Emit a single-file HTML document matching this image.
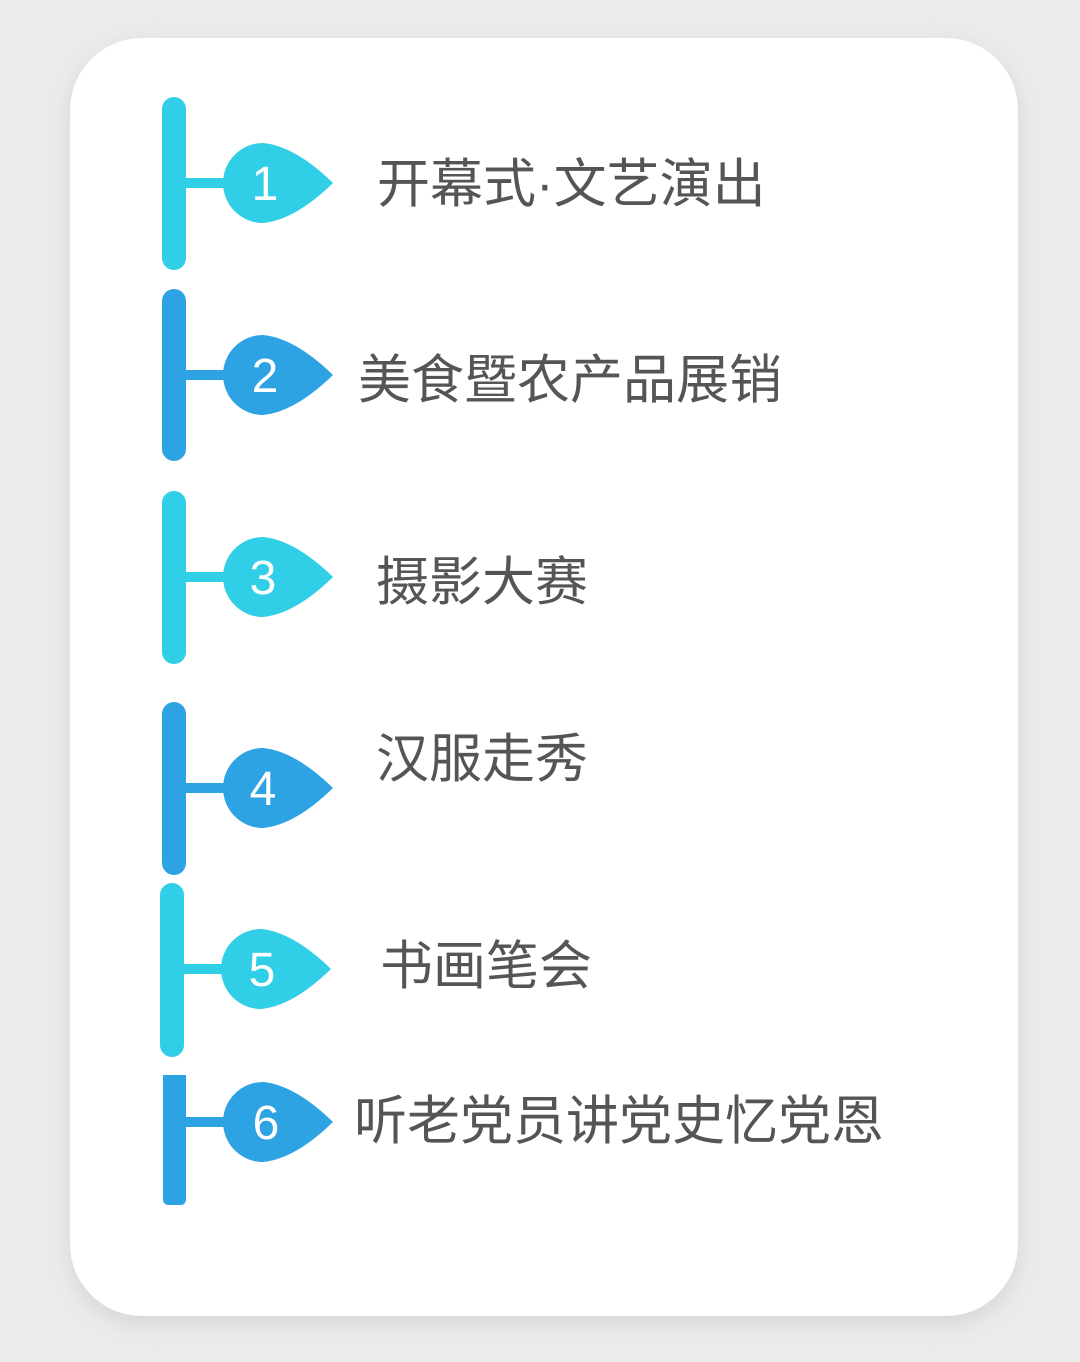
<!DOCTYPE html>
<html><head><meta charset="utf-8"><style>
html,body{margin:0;padding:0;background:#ebebeb;}
svg{display:block}
</style></head><body>
<svg width="1080" height="1362" viewBox="0 0 1080 1362" xmlns="http://www.w3.org/2000/svg">
<defs>
<filter id="sh" x="-10%" y="-10%" width="120%" height="120%"><feGaussianBlur stdDeviation="10"/></filter>
</defs>
<rect width="1080" height="1362" fill="#ebebeb"/>
<rect x="70" y="44" width="948" height="1280" rx="72" fill="#d6d6d6" filter="url(#sh)"/>
<rect x="70" y="38" width="948" height="1278" rx="72" fill="#ffffff"/>
<g font-family="Liberation Sans, DejaVu Sans, sans-serif" font-size="48" fill="#fff" text-anchor="middle">
<g fill="#30cfe7"><rect x="162" y="97" width="24" height="173" rx="12"/><rect x="184" y="178" width="50" height="10"/>
<path d="M263,143 A40,40 0 1 0 263,223 Q295,220 333,183 Q295,146 263,143Z"/></g>
<text x="265" y="200">1</text>
<g fill="#2ea3e4"><rect x="162" y="289" width="24" height="172" rx="12"/><rect x="184" y="370" width="50" height="10"/>
<path d="M263,335 A40,40 0 1 0 263,415 Q295,412 333,375 Q295,338 263,335Z"/></g>
<text x="265" y="392">2</text>
<g fill="#30cfe7"><rect x="162" y="491" width="24" height="173" rx="12"/><rect x="184" y="572" width="50" height="10"/>
<path d="M263,537 A40,40 0 1 0 263,617 Q295,614 333,577 Q295,540 263,537Z"/></g>
<text x="263" y="594">3</text>
<g fill="#2ea3e4"><rect x="162" y="702" width="24" height="173" rx="12"/><rect x="184" y="783" width="50" height="10"/>
<path d="M263,748 A40,40 0 1 0 263,828 Q295,825 333,788 Q295,751 263,748Z"/></g>
<text x="263" y="805">4</text>
<g fill="#30cfe7"><rect x="160" y="883" width="24" height="174" rx="12"/><rect x="182" y="964" width="50" height="10"/>
<path d="M261,929 A40,40 0 1 0 261,1009 Q293,1006 331,969 Q293,932 261,929Z"/></g>
<text x="262" y="986">5</text>
<g fill="#2ea3e4"><path d="M163,1075 H186 V1199 Q186,1205 180,1205 H169 Q163,1205 163,1199Z"/><rect x="184" y="1117" width="50" height="10"/>
<path d="M263,1082 A40,40 0 1 0 263,1162 Q295,1159 333,1122 Q295,1085 263,1082Z"/></g>
<text x="266" y="1139">6</text>
</g>
<g font-family="Liberation Sans, Noto Sans CJK SC, sans-serif" font-size="53" fill="#555555">
<text x="377" y="202">开幕式·文艺演出</text>
<text x="358" y="398">美食暨农产品展销</text>
<text x="376" y="600">摄影大赛</text>
<text x="376" y="777">汉服走秀</text>
<text x="380" y="984">书画笔会</text>
<text x="354" y="1139">听老党员讲党史忆党恩</text>
</g>
</svg>
</body></html>
